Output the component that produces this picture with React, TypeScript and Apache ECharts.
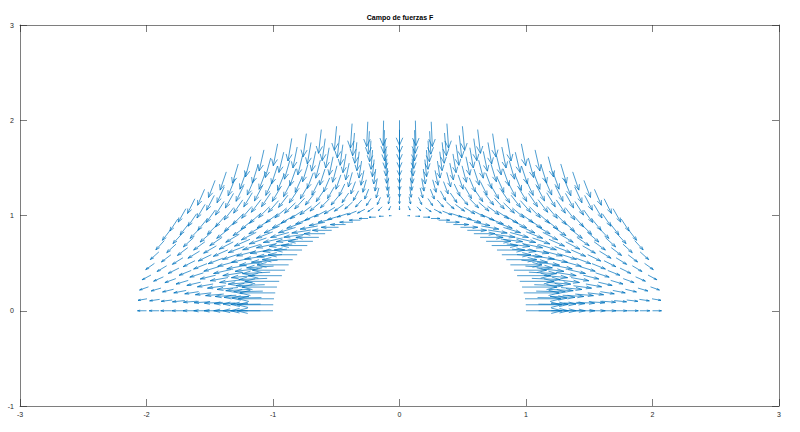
import React, { useEffect, useRef } from "react";
import * as echarts from "echarts";

// Grid of the quiver plot (polar grid over the half annulus 1 <= r <= 2, 0 <= theta <= 180°)
const radii = [1.0, 1.1, 1.2, 1.3, 1.4, 1.5, 1.6, 1.7, 1.8, 1.9, 2.0];
const anglesDeg = [
  0, 3.6, 7.2, 10.8, 14.4, 18, 21.6, 25.2, 28.8, 32.4, 36, 39.6, 43.2, 46.8, 50.4, 54,
  57.6, 61.2, 64.8, 68.4, 72, 75.6, 79.2, 82.8, 86.4, 90, 93.6, 97.2, 100.8, 104.4, 108,
  111.6, 115.2, 118.8, 122.4, 126, 129.6, 133.2, 136.8, 140.4, 144, 147.6, 151.2, 154.8,
  158.4, 162, 165.6, 169.2, 172.8, 176.4, 180,
];
// Force field F(x, y) = (cx * x / r^3, y / r^3 - y), drawn with the quiver scale below
const fieldCx = 1.9;
const quiverScale = 0.15;

const xTicks = { min: -3, max: 3, interval: 1 };
const yTicks = { min: -1, max: 3, interval: 1 };
const titleText = "Campo de fuerzas F";

function buildArrows() {
  const out: number[][] = [];
  for (const a of anglesDeg) {
    const t = (a * Math.PI) / 180;
    for (const r of radii) {
      const x = r * Math.cos(t);
      const y = r * Math.sin(t);
      const r3 = r * r * r;
      const u = (fieldCx * x) / r3;
      const v = y / r3 - y;
      out.push([x, y, u * quiverScale, v * quiverScale]);
    }
  }
  return out;
}

const ARROW = "#0072BD";
const AXIS = "#262626";
const FONT = "'Liberation Sans', Arial, sans-serif";

export default function App() {
  const ref = useRef<HTMLDivElement>(null);
  useEffect(() => {
    if (!ref.current) return;
    const chart = echarts.init(ref.current, undefined, { renderer: "svg" });
    const axisLine = { show: true, onZero: false, lineStyle: { color: AXIS, width: 0.6 } };
    const axisTick = { show: true, inside: true, length: 7, lineStyle: { color: AXIS, width: 0.6 } };
    const label = { fontSize: 7, color: AXIS, fontFamily: FONT };
    chart.setOption({
      animation: false,
      backgroundColor: "#ffffff",
      title: {
        text: titleText,
        left: "center",
        top: 9,
        textStyle: { fontSize: 7, fontWeight: "bold", color: "#000", fontFamily: FONT },
      },
      grid: { left: 20, right: 21, top: 25, bottom: 26 },
      xAxis: [
        {
          type: "value", position: "bottom", ...xTicks,
          axisLine, axisTick, splitLine: { show: false },
          axisLabel: { ...label, margin: 5 },
        },
        {
          type: "value", position: "top", ...xTicks,
          axisLine, axisTick, splitLine: { show: false },
          axisLabel: { show: false },
        },
      ],
      yAxis: [
        {
          type: "value", position: "left", ...yTicks,
          axisLine, axisTick, splitLine: { show: false },
          axisLabel: { ...label, margin: 6 },
        },
        {
          type: "value", position: "right", ...yTicks,
          axisLine, axisTick, splitLine: { show: false },
          axisLabel: { show: false },
        },
      ],
      series: [
        {
          type: "custom",
          xAxisIndex: 0,
          yAxisIndex: 0,
          data: buildArrows(),
          clip: false,
          renderItem: (_params: any, api: any) => {
            const x = api.value(0);
            const y = api.value(1);
            const u = api.value(2);
            const v = api.value(3);
            if (Math.hypot(u, v) < 1e-9) return null;
            const alpha = 0.3;
            const beta = 0.33;
            const p0 = api.coord([x, y]);
            const p1 = api.coord([x + u, y + v]);
            const h1 = api.coord([x + u - alpha * (u + beta * v), y + v - alpha * (v - beta * u)]);
            const h2 = api.coord([x + u - alpha * (u - beta * v), y + v - alpha * (v + beta * u)]);
            const style = { stroke: ARROW, lineWidth: 0.7, fill: null };
            return {
              type: "group",
              children: [
                { type: "line", shape: { x1: p0[0], y1: p0[1], x2: p1[0], y2: p1[1] }, style },
                { type: "polyline", shape: { points: [h1, p1, h2] }, style },
              ],
            };
          },
        },
      ],
    });
    return () => chart.dispose();
  }, []);
  return (
    <div
      ref={ref}
      style={{ position: "absolute", left: 0, top: 0, width: 800, height: 432 }}
    />
  );
}
